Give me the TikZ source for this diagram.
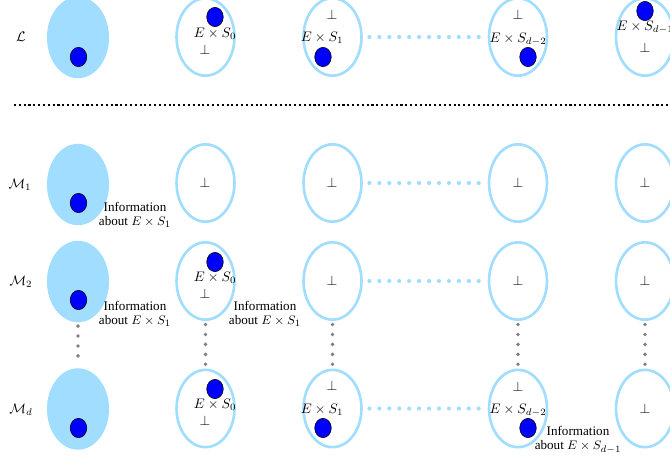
\documentclass[tikz,border=0pt]{standalone}
\usepackage{fontspec}
\setmainfont{Liberation Serif}
\usepackage{amssymb}
\usepackage{amsmath}
\usetikzlibrary{shapes.geometric}
\definecolor{lightsky}{RGB}{160,221,255}

\begin{document}
\begin{tikzpicture}[x=0.7246pt, y=-0.7246pt,
    full/.style={ellipse, fill=lightsky, minimum width=45pt, minimum height=59pt},
    hollow/.style={ellipse, draw=lightsky, line width=1.9pt, minimum width=42pt, minimum height=56pt},
    ball/.style={ellipse, fill=blue, draw=black, inner sep=0pt, minimum width=12pt, minimum height=14pt},
    info/.style={align=center, font=\fontsize{9.5}{10}\selectfont},
    bluedots/.style={draw=lightsky, line width=3pt, line cap=round, dash pattern=on 0pt off 7.2pt, shorten <=4.8pt, shorten >=4.8pt},
    greydots/.style={draw=gray, line width=2.8pt, line cap=round, dash pattern=on 0pt off 7.2pt, shorten <=2.6pt, shorten >=2.6pt}]

    \useasboundingbox (0,0) rectangle (670,461);

    % Place the row labels
    \node (labL) at (21,37) {$\mathcal{L}$};
    \node (labM1) at (20,185) {$\mathcal{M}_1$};
    \node (labM2) at (21,282) {$\mathcal{M}_2$};
    \node (labMd) at (21,410) {$\mathcal{M}_d$};

    % Place the nodes of L
    \node[full] (l0) at (78,37.5) {};
    \node[ball] (lb0) at (78.5,57) {};
    \node[hollow] (l1) at (205.5,37) {};
    \node[ball] (lb1) at (215,17) {};
    \node (lt1) at (215,34) {$E\times S_0$};
    \node (lp1) at (205,50) {$\perp$};
    \node[hollow] (l2) at (332.5,37) {};
    \node (lp2) at (332,15) {$\perp$};
    \node (lt2) at (322,38) {$E\times S_1$};
    \node[ball] (lb2) at (323,57) {};
    \node[hollow] (l3) at (518,37) {};
    \node (lp3) at (518,15) {$\perp$};
    \node (lt3) at (518,39) {$E\times S_{d-2}$};
    \node[ball] (lb3) at (528,57) {};
    \node[hollow] (l4) at (645,37) {};
    \node[ball] (lb4) at (645,11) {};
    \node (lt4) at (645,27) {$E\times S_{d-1}$};
    \node (lp4) at (645,48) {$\perp$};

    % Place the nodes of M_1
    \node[full] (m10) at (78,184.5) {};
    \node[ball] (m1b0) at (78.5,203) {};
    \node[info] (m1i0) at (135,215) {Information\\about $E\times S_1$};
    \node[hollow] (m11) at (205.5,183) {};
    \node (m1p1) at (205,183) {$\perp$};
    \node[hollow] (m12) at (332.5,183) {};
    \node (m1p2) at (332,183) {$\perp$};
    \node[hollow] (m13) at (518,183) {};
    \node (m1p3) at (518,183) {$\perp$};
    \node[hollow] (m14) at (645,183) {};
    \node (m1p4) at (645,183) {$\perp$};

    % Place the nodes of M_2
    \node[full] (m20) at (78,281.5) {};
    \node[ball] (m2b0) at (78.5,300) {};
    \node[info] (m2i0) at (135,314) {Information\\about $E\times S_1$};
    \node[hollow] (m21) at (205.5,281) {};
    \node[ball] (m2b1) at (215,262) {};
    \node (m2t1) at (215,278) {$E\times S_0$};
    \node (m2p1) at (205,294) {$\perp$};
    \node[info] (m2i1) at (265,314) {Information\\about $E\times S_1$};
    \node[hollow] (m22) at (332.5,281) {};
    \node (m2p2) at (332,281) {$\perp$};
    \node[hollow] (m23) at (518,281) {};
    \node (m2p3) at (518,281) {$\perp$};
    \node[hollow] (m24) at (645,281) {};
    \node (m2p4) at (645,281) {$\perp$};

    % Place the nodes of M_d
    \node[full] (md0) at (78,409) {};
    \node[ball] (mdb0) at (78.5,428) {};
    \node[hollow] (md1) at (205.5,408.5) {};
    \node[ball] (mdb1) at (215,389) {};
    \node (mdt1) at (215,405) {$E\times S_0$};
    \node (mdp1) at (205,421) {$\perp$};
    \node[hollow] (md2) at (332.5,408.5) {};
    \node (mdp2) at (332,386) {$\perp$};
    \node (mdt2) at (322,410) {$E\times S_1$};
    \node[ball] (mdb2) at (323,428) {};
    \node[hollow] (md3) at (518,408.5) {};
    \node (mdp3) at (518,387) {$\perp$};
    \node (mdt3) at (518,410) {$E\times S_{d-2}$};
    \node[ball] (mdb3) at (528,428) {};
    \node[info] (mdi3) at (578,440) {Information\\about $E\times S_{d-1}$};
    \node[hollow] (md4) at (645,408.5) {};
    \node (mdp4) at (645,409) {$\perp$};

    % Draw the separating line
    \coordinate (sepL) at (14,105);
    \coordinate (sepR) at (680,105);
    \draw[line width=1.5pt, dotted] (sepL) -- (sepR);

    % Draw the dots along the rows
    \draw[bluedots] (l2) -- (l3);
    \draw[bluedots] (m12) -- (m13);
    \draw[bluedots] (m22) -- (m23);
    \draw[bluedots] (md2) -- (md3);

    % Draw the dots down the columns
    \draw[greydots] (m20) -- (md0);
    \draw[greydots] (m21) -- (md1);
    \draw[greydots] (m22) -- (md2);
    \draw[greydots] (m23) -- (md3);
    \draw[greydots] (m24) -- (md4);

\end{tikzpicture}
\end{document}
